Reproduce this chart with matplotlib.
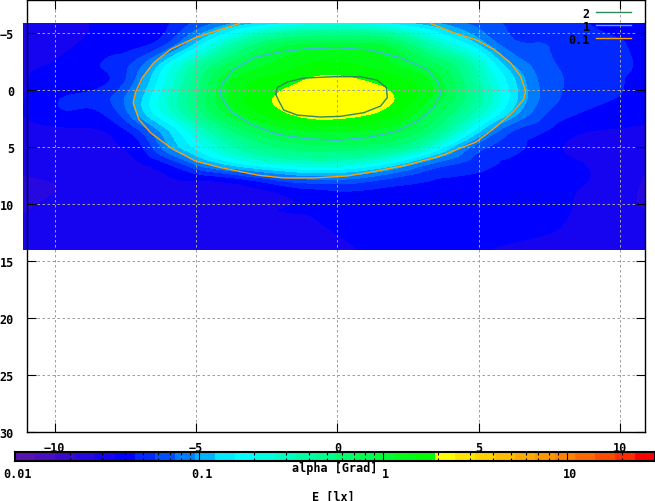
import numpy as np
import matplotlib
matplotlib.use("Agg")
import matplotlib.pyplot as plt
import matplotlib.tri as mtri
import matplotlib.transforms as mtrans
from matplotlib.colors import ListedColormap, BoundaryNorm

W, H = 655, 502
FONT = {"family": "DejaVu Sans Mono", "weight": "bold", "size": 8.5}

x_nodes = [-11.1,-9.3,-7.9,-7,-6,-5,-4,-2.5,-1,0.5,2,3.5,5,6,7,8,9.4,10.9]
y_nodes = [-5.9,-4,-2.5,-1,0.5,2,3.5,5,6.5,8,10,12,14]
# log10(E [lx])
log_E = [
 [-1.50,-1.47,-1.43,-1.41,-1.36,-1.22,-1.08,-0.88,-0.76,-0.74,-0.85,-1.02,-1.18,-1.25,-1.28,-1.31,-1.37,-1.40],
 [-1.50,-1.46,-1.41,-1.38,-1.22,-0.88,-0.55,-0.17,-0.03,-0.02,-0.12,-0.52,-0.92,-1.18,-1.23,-1.29,-1.33,-1.38],
 [-1.49,-1.42,-1.32,-1.20,-0.85,-0.50,-0.22, 0.04, 0.16, 0.16, 0.05,-0.18,-0.60,-1.00,-1.17,-1.27,-1.32,-1.37],
 [-1.47,-1.40,-1.33,-1.08,-0.68,-0.33, 0.00, 0.19, 0.285,0.29, 0.20, 0.00,-0.48,-0.83,-1.12,-1.24,-1.32,-1.37],
 [-1.47,-1.34,-1.23,-0.97,-0.60,-0.28, 0.03, 0.26, 0.35, 0.37, 0.28, 0.02,-0.42,-0.78,-1.10,-1.25,-1.33,-1.38],
 [-1.45,-1.36,-1.28,-0.99,-0.65,-0.33,-0.05, 0.20, 0.34, 0.33, 0.20,-0.12,-0.55,-0.90,-1.17,-1.31,-1.39,-1.42],
 [-1.52,-1.48,-1.42,-1.24,-0.92,-0.60,-0.32,-0.04, 0.08, 0.08, 0.00,-0.30,-0.88,-1.20,-1.31,-1.41,-1.46,-1.48],
 [-1.53,-1.52,-1.47,-1.38,-1.05,-0.78,-0.55,-0.30,-0.20,-0.20,-0.30,-0.70,-1.20,-1.29,-1.39,-1.46,-1.50,-1.52],
 [-1.54,-1.53,-1.52,-1.47,-1.36,-1.13,-0.93,-0.72,-0.62,-0.66,-0.88,-1.18,-1.30,-1.38,-1.42,-1.44,-1.48,-1.55],
 [-1.58,-1.55,-1.53,-1.52,-1.48,-1.47,-1.45,-1.32,-1.20,-1.20,-1.30,-1.36,-1.40,-1.42,-1.43,-1.44,-1.48,-1.58],
 [-1.58,-1.54,-1.53,-1.52,-1.51,-1.50,-1.49,-1.47,-1.45,-1.41,-1.40,-1.41,-1.42,-1.43,-1.44,-1.45,-1.50,-1.58],
 [-1.55,-1.53,-1.53,-1.53,-1.52,-1.52,-1.51,-1.49,-1.47,-1.44,-1.42,-1.41,-1.42,-1.43,-1.44,-1.46,-1.50,-1.54],
 [-1.54,-1.54,-1.53,-1.53,-1.53,-1.52,-1.51,-1.50,-1.48,-1.46,-1.44,-1.44,-1.45,-1.47,-1.49,-1.51,-1.52,-1.54],
]
band_colors = [
 (88,20,178),(72,16,190),(58,10,205),(40,8,225),(22,4,240),(0,0,255),(0,40,255),(0,80,255),
 (0,125,255),(0,180,255),(0,235,255),(0,255,255),(0,255,225),(0,255,195),(0,255,165),(0,255,140),
 (0,255,110),(0,255,85),(0,255,50),(0,255,20),(0,255,0),(255,255,0),(255,230,0),(255,210,0),
 (255,190,0),(255,170,0),(255,150,0),(255,130,0),(255,105,0),(255,75,0),(255,45,0),(255,0,0),
]
contour_01_x = [-3.45,-4.13,-5.03,-5.90,-6.49,-6.90,-7.14,-7.22,-7.02,-6.61,-5.90,-5.03,-4.13,-2.78,-1.90,-0.84,0.34,1.28,2.46,3.64,4.89,5.64,6.23,6.58,6.65,6.47,6.11,5.52,4.89,4.11,3.29]
contour_01_y = [-5.88,-5.35,-4.62,-3.60,-2.43,-1.11,0.20,1.08,2.54,3.71,5.03,6.20,6.78,7.46,7.69,7.69,7.52,7.13,6.55,5.76,4.54,3.13,1.82,0.79,0.06,-1.25,-2.43,-3.60,-4.45,-5.06,-5.88]
contour_1_x = [-4.16,-4.07,-3.66,-2.96,-2.01,-1.07,-0.01,1.17,2.23,3.17,3.58,3.64,3.40,2.93,2.11,1.17,-0.01,-1.07,-2.13,-3.07,-3.78,-4.16]
contour_1_y = [0.35,-0.67,-1.84,-2.87,-3.39,-3.65,-3.75,-3.54,-2.87,-1.84,-0.67,0.35,1.52,2.54,3.57,4.10,4.39,4.24,3.86,2.98,1.82,0.35]
contour_2_x = [-2.18,-2.13,-1.78,-1.19,-0.13,0.81,1.40,1.73,1.76,1.52,0.93,0.11,-0.60,-1.42,-1.90,-2.07,-2.18]
contour_2_y = [0.35,-0.24,-0.73,-1.08,-1.20,-1.20,-0.90,-0.24,0.64,1.38,1.96,2.28,2.34,2.17,1.73,0.94,0.35]
x_ticks = [-10,-5,0,5,10]
y_ticks = [-5,0,5,10,15,20,25,30]
cb_major = [0.01,0.1,1,10]
cb_labels = ["0.01","0.1","1","10"]
cb_minor = [0.02,0.03,0.04,0.05,0.06,0.07,0.08,0.09,0.2,0.3,0.4,0.5,0.6,0.7,0.8,0.9,2,3,4,5,6,7,8,9,20]

colors = [tuple(c/255 for c in rgb) for rgb in band_colors]
edges = np.linspace(-2, np.log10(30), len(colors)+1)

fig = plt.figure(figsize=(W/100, H/100), dpi=100)
def box(l, t, r, b):
    return [l/W, 1-b/H, (r-l)/W, (b-t)/H]

ax = fig.add_axes(box(26.5, 0.5, 644.5, 433))
gx, gy = np.meshgrid(x_nodes, y_nodes)
tri = mtri.Triangulation(gx.ravel(), gy.ravel())
fine_tri, fine_z = mtri.UniformTriRefiner(tri).refine_field(np.array(log_E).ravel(), subdiv=3)
cs = ax.tricontourf(fine_tri, fine_z, levels=edges, colors=colors, antialiased=False, zorder=1)
cs.set_clip_on(False)
ax.set_xlim(-10.99, 10.85)
ax.set_ylim(30, -7.98)
ax.set_xticks(x_ticks)
ax.set_yticks(y_ticks)
ax.set_xticklabels([str(v).replace("-", "\u2212") for v in x_ticks], **FONT)
ax.set_yticklabels([str(v).replace("-", "\u2212") for v in y_ticks], **FONT)
ax.tick_params(direction="in", length=6.5, width=0.8, top=True, right=True, pad=6.5, color="black", axis="x")
ax.tick_params(direction="in", length=6.5, width=0.8, left=True, right=True, pad=9, color="black", axis="y")
ax.grid(True, color="#a0a0a0", linestyle=(0, (2.5, 2.5)), linewidth=0.72)
ax.set_axisbelow(False)
for s in ax.spines.values():
    s.set_linewidth(1.0)
    s.set_zorder(5)

ax.plot(contour_2_x, contour_2_y, color="#2e8b57", lw=1.0, label="2", zorder=3)
ax.plot(contour_1_x, contour_1_y, color="#40b8e0", lw=1.0, label="1", zorder=3)
ax.plot(contour_01_x, contour_01_y, color="#ffa000", lw=1.0, label="0.1", zorder=3)
leg = ax.legend(loc="upper right", frameon=False, markerfirst=False, prop={"family": "DejaVu Sans Mono", "weight": "bold", "size": 8.5},
                handlelength=3.0, handletextpad=0.55, labelspacing=0.0, borderaxespad=0, bbox_to_anchor=(0.9865, 0.9945))
leg.set_zorder(6)

cax = fig.add_axes(box(14.6, 452.5, 654.5, 461.5), zorder=5)
cb_edges = 10**edges
cax.pcolormesh(cb_edges, [0, 1], np.arange(len(colors)).reshape(1, -1),
               cmap=ListedColormap(colors), norm=BoundaryNorm(np.arange(len(colors)+1)-0.5, len(colors)))
cax.set_xscale("log")
cax.set_xlim(0.01, 30)
cax.set_yticks([])
cax.set_xticks(cb_major)
cax.set_xticklabels(cb_labels, **FONT)
cax.set_xticks(cb_minor, minor=True)
cax.set_xticklabels([], minor=True)
cax.tick_params(axis="x", which="major", direction="in", length=6.5, width=0.8, pad=5)
cax.tick_params(axis="x", which="minor", direction="in", length=2.5, width=0.8, top=True)
shift = mtrans.ScaledTranslation(3/100, 0, fig.dpi_scale_trans)
for lab in cax.get_xticklabels():
    lab.set_transform(lab.get_transform() + shift)
for s in cax.spines.values():
    s.set_linewidth(1.5)

fig.text(335/W, 1-468.5/H, "alpha [Grad]", ha="center", va="center", zorder=10, **FONT)
fig.text(333/W, 1-497/H, "E [lx]", ha="center", va="center", **FONT)
fig.savefig("out.png", dpi=100)
